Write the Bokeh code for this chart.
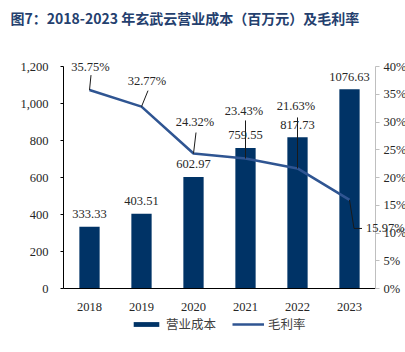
from bokeh.plotting import figure
from bokeh.models import (ColumnDataSource, Range1d, LinearAxis, FixedTicker,
                          NumeralTickFormatter, PrintfTickFormatter, LabelSet,
                          Label, Legend, LegendItem)
from bokeh.embed import file_html
from bokeh.resources import INLINE

# ---- data ----
years = ["2018", "2019", "2020", "2021", "2022", "2023"]
cost = [333.33, 403.51, 602.97, 759.55, 817.73, 1076.63]
margin = [35.75, 32.77, 24.32, 23.43, 21.63, 15.97]
cost_ticks = [0, 200, 400, 600, 800, 1000, 1200]
pct_ticks = [0, 5, 10, 15, 20, 25, 30, 35, 40]
COST_MAX, PCT_MAX = 1200, 40

# ---- style / layout constants (pixels) ----
W, H = 405, 352
AX_L, AX_R, AX_T, AX_B = 63, 375, 66, 288   # plot box of the reference
BAR_C = "#003366"
LINE_C = "#2f5592"
TXT_C = "#262626"
SERIF = "Liberation Serif"
CJK = "Noto Sans CJK SC"

n = len(years)
xs = list(range(n))
px_x = (AX_R - AX_L) / n
px_c = (AX_B - AX_T) / COST_MAX
px_p = (AX_B - AX_T) / PCT_MAX
x0px = AX_L + px_x / 2          # pixel of first category centre

# whole canvas is the frame; axes are pinned with fixed_location
x_range = Range1d(-x0px / px_x, (W - x0px) / px_x)
y_range = Range1d(-(H - AX_B) / px_c, AX_B / px_c)
pct_range = Range1d(-(H - AX_B) / px_p, AX_B / px_p)

lab_dx = [1, 5.5, 1.5, -1.5, -1.5, 16.5]
lab_dy = [-23, -26, -32, -47, -62, 28.6]
lab_align = ["center"] * 5 + ["left"]
lead_dx = [1.5, 6.5, 2.5, 0, 0, 12.5]
lead_dy = [-15, -16, -21, -38, -51, 28.6]

p = figure(width=W, height=H, output_backend="svg", toolbar_location=None,
           x_range=x_range, y_range=y_range, x_axis_location=None,
           y_axis_location=None, min_border=0, outline_line_color=None,
           background_fill_color="white", border_fill_color="white")
p.xgrid.visible = False
p.ygrid.visible = False
p.extra_y_ranges = {"pct": pct_range}

src = ColumnDataSource(dict(
    x=xs, cost=cost, margin=margin,
    cost_txt=["%.2f" % v for v in cost],
    m_txt=["%.2f%%" % v for v in margin],
    m_x=[x + dx / px_x for x, dx in zip(xs, lab_dx)],
    m_y=[m - dy / px_p for m, dy in zip(margin, lab_dy)],
    align=lab_align,
))

bars = p.vbar(x="x", top="cost", width=0.39, source=src, fill_color=BAR_C,
              line_color=None)
line = p.line(x="x", y="margin", source=src, line_color=LINE_C, line_width=2.6,
              y_range_name="pct")

for i in range(n):
    xa, ya = xs[i], margin[i]
    xb = xa + lead_dx[i] / px_x
    yb = ya - lead_dy[i] / px_p
    if i == n - 1:
        xm = xa + 4.5 / px_x
        p.line([xa, xm, xb], [ya, yb, yb], line_color="#1a1a1a", line_width=1,
               y_range_name="pct")
    else:
        p.line([xa, xb], [ya, yb], line_color="#1a1a1a", line_width=1,
               y_range_name="pct")

p.add_layout(LabelSet(x="x", y="cost", text="cost_txt", source=src,
                      y_offset=12.5, text_align="center",
                      text_baseline="middle", text_font=SERIF,
                      text_font_size="12.5px", text_color=TXT_C))
p.add_layout(LabelSet(x="m_x", y="m_y", text="m_txt", source=src,
                      y_range_name="pct", text_align="align",
                      text_baseline="middle", text_font=SERIF,
                      text_font_size="12.5px", text_color=TXT_C))

def style(ax, size="12.5px"):
    ax.major_label_text_font = SERIF
    ax.major_label_text_font_size = size
    ax.major_label_text_color = TXT_C
    ax.minor_tick_line_color = None
    ax.major_tick_in = 0

bx = LinearAxis(ticker=FixedTicker(ticks=xs), fixed_location=0,
                bounds=(-0.5, n - 0.5))
bx.major_label_overrides = {i: y for i, y in zip(xs, years)}
style(bx)
bx.major_tick_line_color = None
bx.axis_line_color = "black"
bx.axis_line_width = 1.2
bx.major_label_standoff = 8
p.add_layout(bx, "below")

ly = LinearAxis(ticker=FixedTicker(ticks=cost_ticks), fixed_location=-0.5,
                bounds=(0, COST_MAX), formatter=NumeralTickFormatter(format="0,0"))
style(ly)
ly.axis_line_color = "black"
ly.major_tick_line_color = "black"
ly.major_tick_out = 3
ly.major_label_standoff = 12
p.add_layout(ly, "left")

ra = LinearAxis(y_range_name="pct", ticker=FixedTicker(ticks=pct_ticks),
                fixed_location=n - 0.5, bounds=(0, PCT_MAX),
                formatter=PrintfTickFormatter(format="%d%%"))
style(ra)
ra.axis_line_color = "#bfbfbf"
ra.major_tick_line_color = "#bfbfbf"
ra.major_tick_out = 4
ra.major_label_standoff = 4
p.add_layout(ra, "right")

p.add_layout(Label(x=10, y=H - 17, x_units="screen", y_units="screen",
                   text="图7：2018-2023 年玄武云营业成本（百万元）及毛利率",
                   text_font=CJK, text_font_style="bold",
                   text_font_size="14px", text_color="#24406e",
                   text_baseline="middle", text_align="left"))

legend = Legend(items=[LegendItem(label="营业成本", renderers=[bars]),
                       LegendItem(label="毛利率", renderers=[line])],
                orientation="horizontal", location=(130, H - 333),
                glyph_width=32, glyph_height=6, label_height=14,
                label_standoff=4, spacing=16, padding=0, margin=0,
                border_line_color=None, background_fill_alpha=0,
                label_text_font=CJK, label_text_font_size="12.5px",
                label_text_color="#404040")
p.add_layout(legend, "center")

open("out.html", "w").write(file_html(p, INLINE))
